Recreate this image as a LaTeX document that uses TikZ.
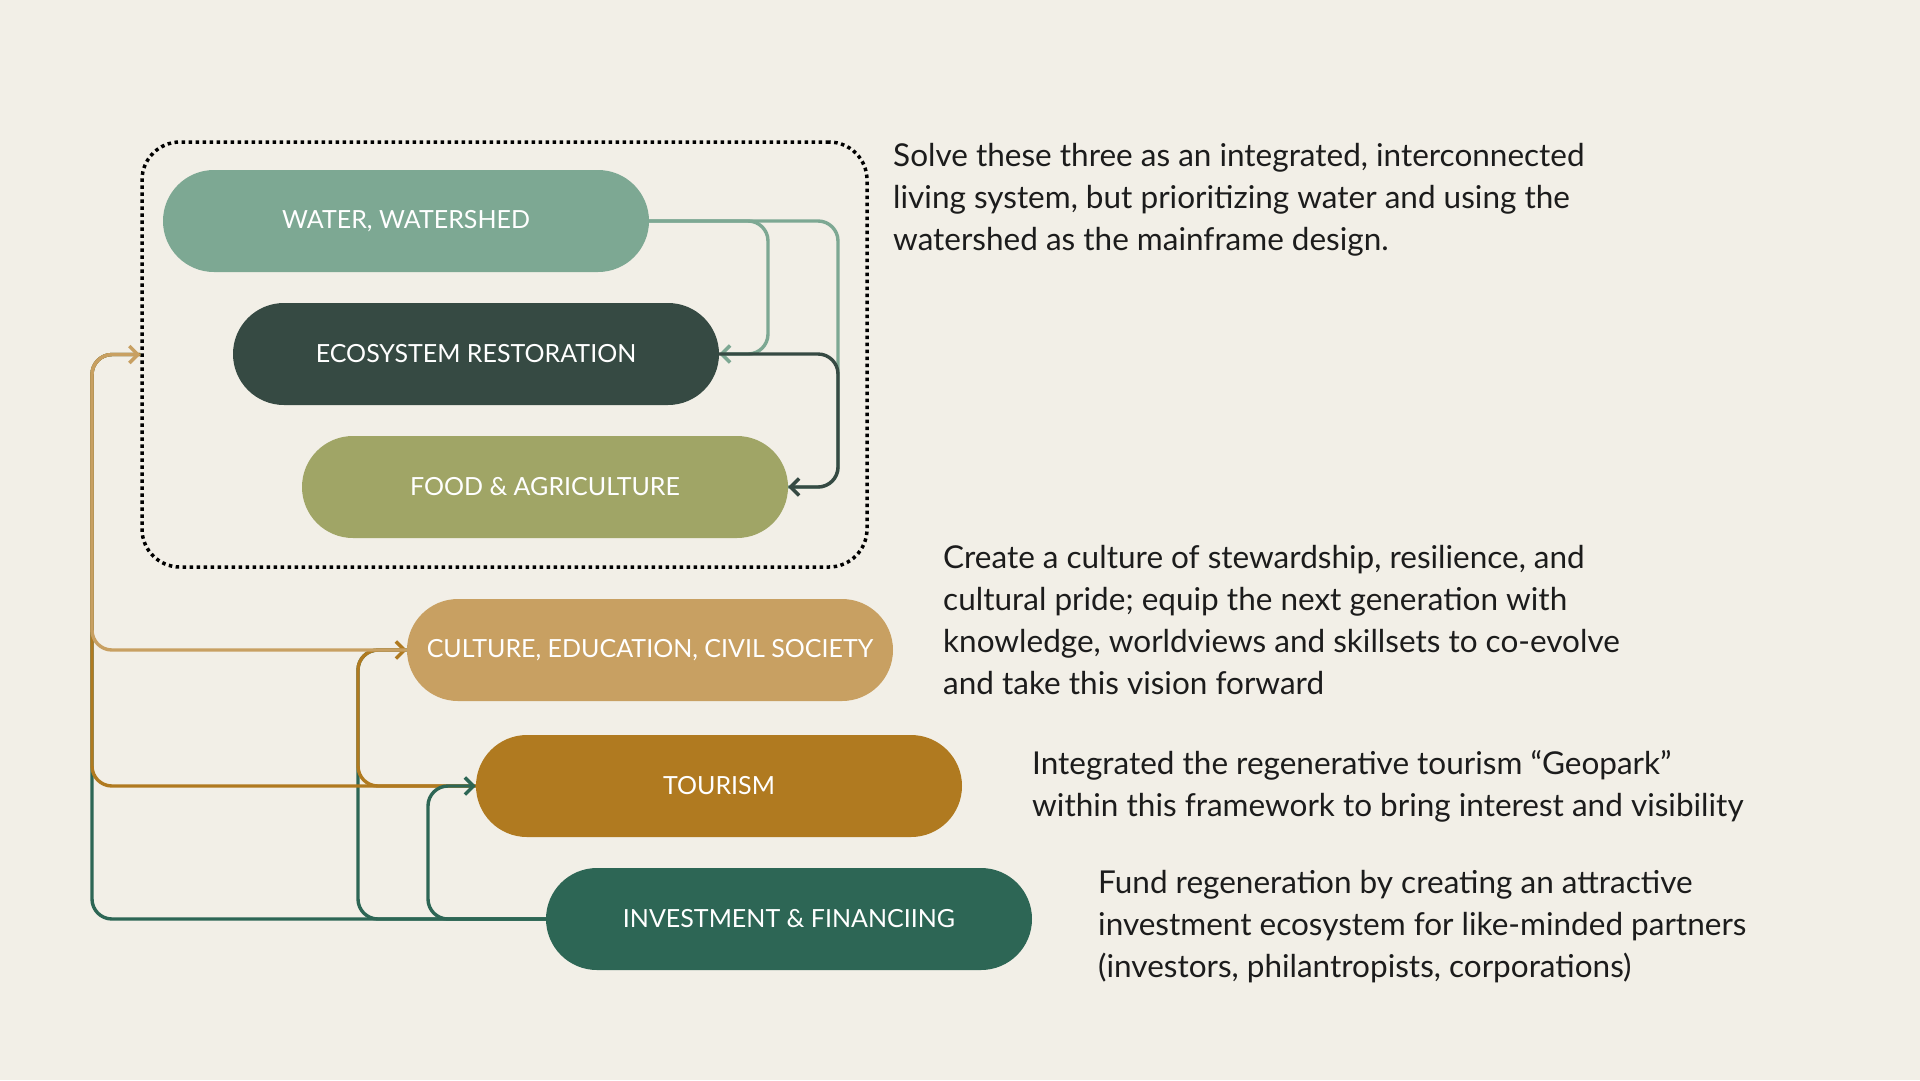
\documentclass[tikz,border=0pt]{standalone}
\usepackage{fontspec}
\setmainfont{Lato}
\usetikzlibrary{shapes.misc,arrows.meta}
\definecolor{bg}{HTML}{F2EFE7}
\definecolor{cwater}{HTML}{7DA893}
\definecolor{ceco}{HTML}{364A43}
\definecolor{cfood}{HTML}{A0A566}
\definecolor{ccult}{HTML}{C8A062}
\definecolor{ctour}{HTML}{B07A20}
\definecolor{cinv}{HTML}{2D6655}
\definecolor{ctext}{HTML}{1C1C1C}
\tikzset{
  pill/.style={rounded rectangle, minimum width=486pt, minimum height=102pt, inner sep=0pt,
    text=white, font=\fontsize{25}{29}\selectfont},
  conn/.style={line width=3.4pt, rounded corners=20pt},
  tip/.style={-{Straight Barb[length=8.5pt,width=17pt,line width=3.4pt]}},
  desc/.style={anchor=west, align=left, text=ctext, inner sep=0pt,
    font=\fontsize{31.5}{42}\selectfont},
}
\begin{document}
\begin{tikzpicture}[x=1pt,y=-1pt]
\fill[bg] (0,0) rectangle (1920,1080);
\useasboundingbox (0,0) rectangle (1920,1080);
% system box
\node[draw=black, line width=3.5pt, dash pattern=on 3.5pt off 3.5pt, rounded corners=38pt,
  minimum width=725pt, minimum height=425pt, inner sep=0pt] (sys) at (504.5,354.5) {};
% pills
\node[pill, fill=cwater] (water) at (406,221) {WATER, WATERSHED};
\node[pill, fill=ceco]   (eco)   at (476,354) {ECOSYSTEM RESTORATION};
\node[pill, fill=cfood]  (food)  at (545,487) {FOOD \& AGRICULTURE};
\node[pill, fill=ccult]  (cult)  at (650,650) {CULTURE, EDUCATION, CIVIL SOCIETY};
\node[pill, fill=ctour]  (tour)  at (719,786) {TOURISM};
\node[pill, fill=cinv]   (inv)   at (789,919) {INVESTMENT \& FINANCIING};
% helper coordinates for vertical runs
\coordinate (xa) at (768,0);
\coordinate (xb) at (838,0);
\coordinate (spine) at (92,0);
\coordinate (xc) at (358,0);
\coordinate (xd) at (428,0);
% water connectors
\draw[conn, cwater] (water.east) -| (xb |- food.east) -- (food.east);
\draw[conn, cwater, tip] (water.east) -| (xa |- eco.east) -- (eco.east);
\draw[conn, ceco, tip] (eco.east) -| (xb |- food.east) -- (food.east);
% investment connectors
\draw[conn, cinv] (inv.west) -| (spine |- sys.west) -- (sys.west);
\draw[conn, cinv] (inv.west) -| (xc |- cult.west) -- (cult.west);
% tourism connectors
\draw[conn, ctour] (tour.west) -| (spine |- sys.west) -- (sys.west);
\draw[conn, ctour, tip] (tour.west) -| (xc |- cult.west) -- (cult.west);
\draw[conn, cinv, tip] (inv.west) -| (xd |- tour.west) -- (tour.west);
% culture connector
\draw[conn, ccult, tip] (cult.west) -| (spine |- sys.west) -- (sys.west);
% descriptions
\node[desc] (d1) at (893,200) {Solve these three as an integrated, interconnected\\living system, but prioritizing water and using the\\watershed as the mainframe design.};
\node[desc] (d2) at (943,620) {Create a culture of stewardship, resilience, and\\cultural pride; equip the next generation with\\knowledge, worldviews and skillsets to co-evolve\\and take this vision forward};
\node[desc] (d3) at (1032,786) {Integrated the regenerative tourism “Geopark”\\within this framework to bring interest and visibility};
\node[desc] (d4) at (1098,927) {Fund regeneration by creating an attractive\\investment ecosystem for like-minded partners\\(investors, philantropists, corporations)};
\end{tikzpicture}
\end{document}
